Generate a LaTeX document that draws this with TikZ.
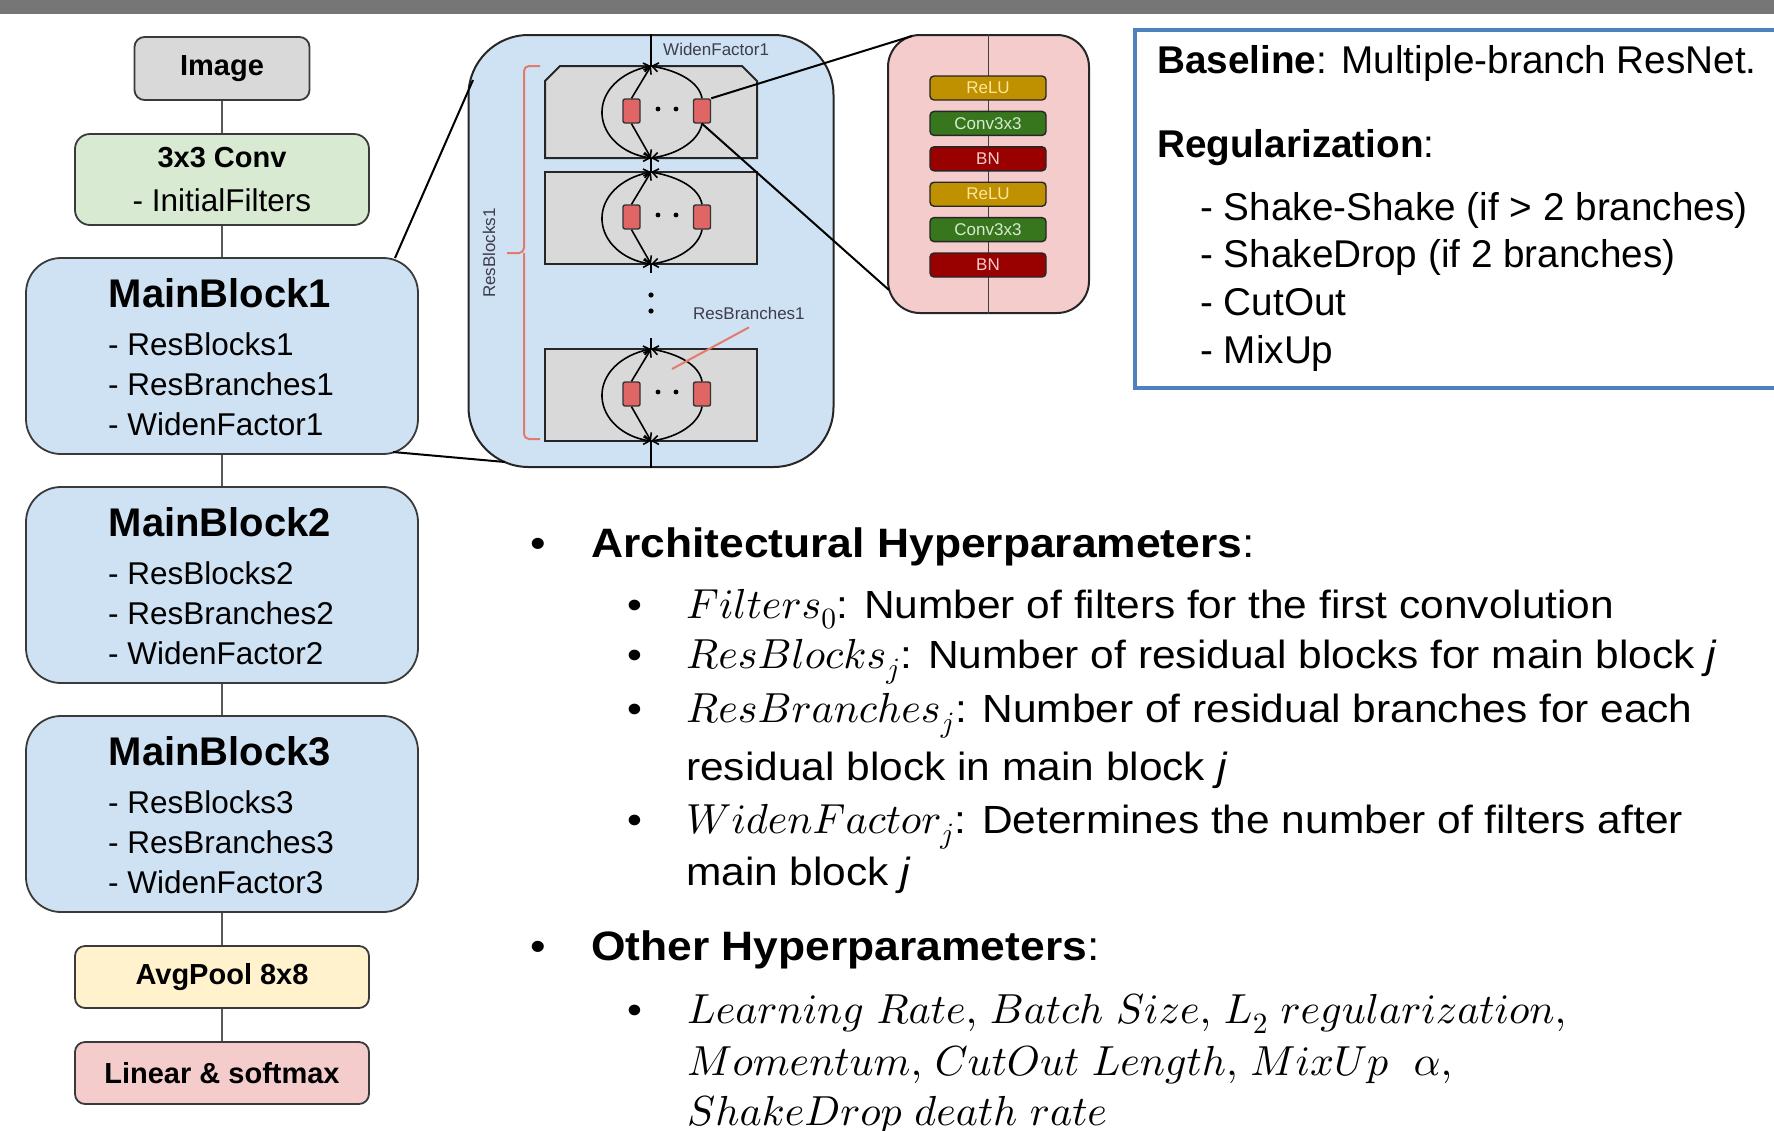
\documentclass[tikz,border=0pt]{standalone}
\usepackage[no-math]{fontspec}
\setmainfont{Liberation Sans}
\newfontfamily\widesans[FakeStretch=1.08]{Liberation Sans}
\usetikzlibrary{arrows.meta}
% scalable Computer Modern for the math letters and digits
\DeclareFontFamily{OML}{cmm}{\skewchar\font127}
\DeclareFontShape{OML}{cmm}{m}{it}{<->cmmi10}{}
\DeclareFontShape{OT1}{cmr}{m}{n}{<->cmr10}{}

\newcommand\setpx[1]{\fontsize{#1}{#1}\selectfont}
\newcommand\mth[1]{{\fontsize{42}{42}\selectfont$#1$}}

\definecolor{bargray}{HTML}{767676}
\definecolor{flowedge}{HTML}{3A3A3A}
\definecolor{linkgray}{HTML}{595959}
\definecolor{imgfill}{HTML}{D9D9D9}
\definecolor{convfill}{HTML}{D9EAD3}
\definecolor{mainfill}{HTML}{CFE2F3}
\definecolor{poolfill}{HTML}{FFF2CC}
\definecolor{linfill}{HTML}{F4CCCC}
\definecolor{resgray}{HTML}{D9D9D9}
\definecolor{unitred}{HTML}{E06666}
\definecolor{brkred}{HTML}{E27B6D}
\definecolor{relufill}{HTML}{BF9000}
\definecolor{relutext}{HTML}{FFE599}
\definecolor{cvfill}{HTML}{38761D}
\definecolor{cvtext}{HTML}{D9EAD3}
\definecolor{bnfill}{HTML}{990000}
\definecolor{bntext}{HTML}{F4CCCC}
\definecolor{boxblue}{HTML}{4F81BD}
\definecolor{labelgray}{HTML}{3D3D4D}

\tikzset{
  flow/.style={draw=flowedge, line width=1.8pt, inner sep=0pt},
  link/.style={draw=linkgray, line width=2.6pt},
  panel/.style={draw=black!85, line width=2pt, inner sep=0pt},
  resblk/.style={draw=black!85, fill=resgray, line width=2pt, inner sep=0pt},
  unit/.style={draw=black!80, fill=unitred, line width=1.4pt, rounded corners=2pt,
    minimum width=17pt, minimum height=24pt, inner sep=0pt},
  br/.style={draw=black, line width=1.6pt},
  barbtip/.tip={Straight Barb[length=6pt,width=9pt]},
  layer/.style={draw=black!85, line width=1.4pt, rounded corners=4pt,
    minimum width=116pt, minimum height=24pt, inner sep=0pt, font=\setpx{17}},
  zoomline/.style={draw=black, line width=2pt},
  brk/.style={draw=brkred, line width=2pt},
  tinylabel/.style={font=\setpx{17}, text=labelgray, inner sep=0pt},
  txt/.style={anchor=base west, inner sep=0pt},
}

\begin{document}
\begin{tikzpicture}[x=1pt, y=-1pt]
\useasboundingbox (0,0) rectangle (1774,1130);
\fill[bargray] (0,0) rectangle (1774,14);

% ---------------- network column ----------------
\node[flow, fill=imgfill, rounded corners=10pt, minimum width=175pt, minimum height=63pt,
  font=\bfseries\setpx{29}] (img) at (222,68.5) {Image};
\node[flow, fill=convfill, rounded corners=15pt, minimum width=294pt, minimum height=91pt] (conv) at (222,179.5) {};
\node[anchor=base, inner sep=0pt, font=\bfseries\setpx{29}] (convt) at (222,167) {3x3 Conv};
\node[anchor=base, inner sep=0pt, font=\setpx{31.5}] (convi) at (222,211) {- InitialFilters};

\foreach \k/\yc in {1/356,2/585,3/814} {
  \node[flow, fill=mainfill, rounded corners=35pt, minimum width=392pt, minimum height=196pt] (mb\k) at (222,\yc) {};
  \node[anchor=base, inner sep=0pt, font=\bfseries\setpx{40}] (mbt\k) at (220,\yc-49) {MainBlock\k};
  \node[txt, font=\setpx{31.5}] (res\k) at (108,\yc-1) {- ResBlocks\k};
  \node[txt, font=\setpx{31.5}] (bra\k) at (108,\yc+39) {- ResBranches\k};
  \node[txt, font=\setpx{31.5}] (wid\k) at (108,\yc+79) {- WidenFactor\k};
}

\node[flow, fill=poolfill, rounded corners=10pt, minimum width=294pt, minimum height=62pt,
  font=\bfseries\setpx{29}] (pool) at (222,977) {AvgPool 8x8};
\node[flow, fill=linfill, rounded corners=10pt, minimum width=294pt, minimum height=62pt,
  font=\bfseries\setpx{29}] (lin) at (222,1073) {Linear \& softmax};

\draw[link] (img) -- (conv);
\draw[link] (conv) -- (mb1);
\draw[link] (mb1) -- (mb2);
\draw[link] (mb2) -- (mb3);
\draw[link] (mb3) -- (pool);
\draw[link] (pool) -- (lin);

% ---------------- main block detail ----------------
\node[panel, fill=mainfill, rounded corners=60pt, minimum width=365pt, minimum height=432pt] (bluepanel) at (651,251) {};

% residual blocks
\draw[resblk] (545,81) -- (560,66) -- (742,66) -- (757,81) -- (757,158) -- (545,158) -- cycle;
\node[resblk, minimum width=212pt, minimum height=92pt] (rb2) at (651,218) {};
\node[resblk, minimum width=212pt, minimum height=92pt] (rb3) at (651,395) {};

\foreach \k/\t in {1/66,2/172,3/349} {
  \begin{scope}[shift={(651,\t)}]
    \coordinate (T\k) at (0,0);
    \coordinate (B\k) at (0,92);
    \node[unit] (L\k) at (-19.5,45) {};
    \node[unit] (R\k) at (51,45) {};
    \fill (7,43) circle (2.4pt);
    \fill (25,43) circle (2.4pt);
    \draw[br, {barbtip}-{barbtip}] (T\k) .. controls (-30,6) and (-50,25) .. (-49,48)
                                 .. controls (-48,70) and (-28,88) .. (B\k);
    \draw[br, {barbtip}-] (T\k) -- (L\k.north);
    \draw[br, -{barbtip}] (L\k.south) -- (B\k);
    \draw[br, {barbtip}-] (T\k) .. controls (28,5) and (48,16) .. (R\k.north);
    \draw[br, -{barbtip}] (R\k.south) .. controls (48,74) and (28,88) .. (B\k);
  \end{scope}
}

% trunk through the main block
\coordinate (gapA) at (651,273);
\coordinate (gapB) at (651,338);
\draw[br] (bluepanel.north) -- (T1);
\draw[br] (B1) -- (T2);
\draw[br] (B2) -- (gapA);
\draw[br] (gapB) -- (T3);
\draw[br] (B3) -- (bluepanel.south);
\fill (651,295) circle (2.6pt);
\fill (651,311) circle (2.6pt);

% labels of the detail
\node[tinylabel, anchor=base west] (wflab) at (663,55) {WidenFactor1};
\draw[brk, rounded corners=5pt] (540,66) -| (524,253) -- (507,253);
\draw[brk, rounded corners=5pt] (540,439) -| (524,253);
\node[tinylabel, rotate=90] (rblab) at (489,253) {ResBlocks1};
\node[tinylabel, anchor=base west] (rbrlab) at (693,319) {ResBranches1};
\coordinate (ptrend) at (672,369);
\draw[brk] ([yshift=-8pt]rbrlab.south) -- (ptrend);

% zoom lines from main block 1 to its detail
\coordinate (mbtop) at (395,258);
\coordinate (mbbot) at (393,452);
\coordinate (bptop) at (473,80);
\coordinate (bpbot) at (505,462);
\draw[zoomline] (mbtop) -- (bptop);
\draw[zoomline] (mbbot) -- (bpbot);

% ---------------- residual branch detail ----------------
\node[panel, fill=linfill, rounded corners=32pt, minimum width=201pt, minimum height=278pt] (pink) at (988.5,174) {};
\draw[draw=black!75, line width=1.8pt] (pink.north) -- (pink.south);
\node[layer, fill=relufill, text=relutext] (l1) at (988,88) {ReLU};
\node[layer, fill=cvfill, text=cvtext] (l2) at (988,123.4) {Conv3x3};
\node[layer, fill=bnfill, text=bntext] (l3) at (988,158.8) {BN};
\node[layer, fill=relufill, text=relutext] (l4) at (988,194.2) {ReLU};
\node[layer, fill=cvfill, text=cvtext] (l5) at (988,229.6) {Conv3x3};
\node[layer, fill=bnfill, text=bntext] (l6) at (988,265) {BN};

\coordinate (pktop) at (912,36);
\coordinate (pkbot) at (889,290);
\draw[zoomline] (R1.north east) -- (pktop);
\draw[zoomline] (R1.south) -- (pkbot);

% ---------------- regularization box ----------------
\draw[draw=boxblue, line width=3.5pt] (1777,30) -- (1135,30) -- (1135,388) -- (1777,388);
\node[txt, font=\setpx{38.7}] (basel) at (1157,73) {\textbf{Baseline}: Multiple-branch ResNet.};
\node[txt, font=\setpx{38.7}] (regul) at (1157,157) {\textbf{Regularization}:};
\node[txt, font=\setpx{38.7}] (reg1) at (1200,220) {- Shake-Shake (if > 2 branches)};
\node[txt, font=\setpx{38.7}] (reg2) at (1200,267) {- ShakeDrop (if 2 branches)};
\node[txt, font=\setpx{38.7}] (reg3) at (1200,315) {- CutOut};
\node[txt, font=\setpx{38.7}] (reg4) at (1200,363) {- MixUp};

% ---------------- hyperparameter list ----------------
\node[txt, font=\widesans\setpx{41.1}] (b1) at (530,557) {•};
\node[txt, font=\widesans\bfseries\setpx{41.1}] (h1) at (591,557) {Architectural Hyperparameters\mdseries:};
\node[txt, font=\widesans\setpx{39.3}] (s1) at (627,618) {•};
\node[txt, font=\widesans\setpx{39.3}] (a1) at (686,618) {\mth{Filters_0}: Number of filters for the first convolution};
\node[txt, font=\widesans\setpx{39.3}] (s2) at (627,668) {•};
\node[txt, font=\widesans\setpx{39.3}] (a2) at (686,668) {\mth{ResBlocks_j}: Number of residual blocks for main block \textit{j}};
\node[txt, font=\widesans\setpx{39.3}] (s3) at (627,722) {•};
\node[txt, font=\widesans\setpx{39.3}] (a3) at (686,722) {\mth{ResBranches_j}: Number of residual branches for each};
\node[txt, font=\widesans\setpx{39.3}] (a3b) at (686,780) {residual block in main block \textit{j}};
\node[txt, font=\widesans\setpx{39.3}] (s4) at (627,833) {•};
\node[txt, font=\widesans\setpx{39.3}] (a4) at (686,833) {\mth{WidenFactor_j}: Determines the number of filters after};
\node[txt, font=\widesans\setpx{39.3}] (a4b) at (686,885) {main block \textit{j}};

\node[txt, font=\widesans\setpx{41.1}] (b2) at (530,960) {•};
\node[txt, font=\widesans\bfseries\setpx{41.1}] (h2) at (591,960) {Other Hyperparameters\mdseries:};
\node[txt, font=\widesans\setpx{39.3}] (s5) at (627,1023) {•};
\node[txt, font=\widesans\setpx{39.3}] (o1) at (687,1023) {\mth{Learning\ Rate{,}\ Batch\ Size{,}\ L_2\ regularization{,}}};
\node[txt, font=\widesans\setpx{39.3}] (o2) at (687,1075) {\mth{Momentum{,}\ CutOut\ Length{,}\ MixUp\ \ \alpha{,}}};
\node[txt, font=\widesans\setpx{39.3}] (o3) at (687,1125) {\mth{ShakeDrop\ death\ rate}};
\end{tikzpicture}
\end{document}
